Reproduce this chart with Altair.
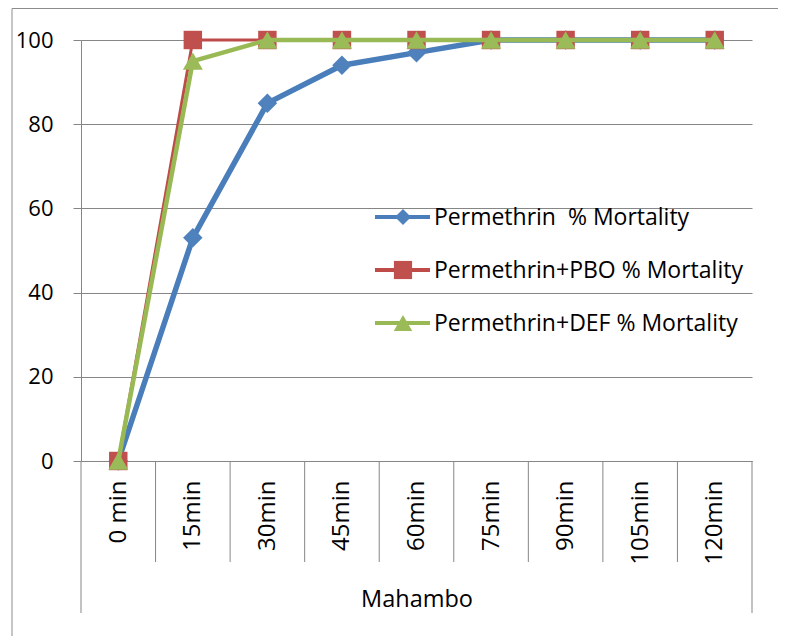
import json
import altair as alt
import pandas as pd

# ---------------- data ----------------
categories = ["0 min", "15min", "30min", "45min", "60min", "75min", "90min", "105min", "120min"]
series_names = [
    "Permethrin\u00a0 % Mortality",
    "Permethrin+PBO % Mortality",
    "Permethrin+DEF % Mortality",
]
permethrin = [0, 53, 85, 94, 97, 100, 100, 100, 100]
permethrin_pbo = [0, 100, 100, 100, 100, 100, 100, 100, 100]
permethrin_def = [0, 95, 100, 100, 100, 100, 100, 100, 100]
y_ticks = [0, 20, 40, 60, 80, 100]
group_label = "Mahambo"

# ---------------- styles ----------------
line_colors = ["#4A7EBB", "#BE4B48", "#98B954"]
marker_colors = ["#4F81BD", "#C0504D", "#9BBB59"]
shapes = ["diamond", "square", "triangle-up"]
line_widths = [5.5, 3, 4.5]
marker_sizes = [380, 340, 400]
legend_marker_sizes = [260, 330, 340]

GRAY = "#868686"
FONT = "Open Sans"
W, H = 671, 421

rows = []
for s, vals in zip(series_names, [permethrin, permethrin_pbo, permethrin_def]):
    for i, v in enumerate(vals):
        rows.append({"idx": i, "series": s, "value": v})
df = pd.DataFrame(rows)

bounds = pd.DataFrame({"idx": [i - 0.5 for i in range(len(categories) + 1)]})
first_b, last_b = float(bounds["idx"].min()), float(bounds["idx"].max())

xscale = alt.Scale(domain=[-0.5, len(categories) - 0.5], nice=False, zero=False)
yscale = alt.Scale(domain=[0, 100], nice=False)
label_expr = json.dumps(categories) + "[datum.value]"

x_axis = alt.Axis(
    values=list(range(len(categories))),
    labelExpr=label_expr,
    labelAngle=-90,
    labelAlign="right",
    labelBaseline="middle",
    labelPadding=19,
    labelFlush=False,
    labelOverlap=False,
    labelFont=FONT,
    labelFontSize=24,
    labelColor="black",
    ticks=False,
    grid=False,
    domainColor=GRAY,
    domainWidth=1,
    title=group_label,
    titleFont=FONT,
    titleFontSize=23.5,
    titleFontWeight="normal",
    titleColor="black",
    titleBaseline="alphabetic",
    titleY=145,
)
y_axis = alt.Axis(
    values=y_ticks,
    grid=True,
    gridColor=GRAY,
    gridWidth=1,
    domainColor=GRAY,
    tickColor=GRAY,
    tickSize=8,
    labelPadding=20,
    labelFont=FONT,
    labelFontSize=22,
    labelColor="black",
    title=None,
)
X = alt.X("idx:Q", scale=xscale, axis=x_axis)
Y = alt.Y("value:Q", scale=yscale, axis=y_axis)

layers = []

# category separators
layers.append(
    alt.Chart(bounds).transform_filter(
        (alt.datum.idx > first_b) & (alt.datum.idx < last_b)
    ).mark_rule(color=GRAY, strokeWidth=1).encode(
        x=X, y=alt.value(H), y2=alt.value(H + 101),
    )
)
layers.append(
    alt.Chart(bounds).transform_filter(
        (alt.datum.idx == first_b) | (alt.datum.idx == last_b)
    ).mark_rule(color=GRAY, strokeWidth=1).encode(
        x=X, y=alt.value(H), y2=alt.value(H + 152),
    )
)

# series lines + markers
for s, lc, mc, sh, lw, ms in zip(series_names, line_colors, marker_colors, shapes, line_widths, marker_sizes):
    base = alt.Chart(df).transform_filter(alt.datum.series == s)
    layers.append(
        base.mark_line(color=lc, strokeWidth=lw, strokeJoin="round").encode(x=X, y=Y)
    )
    layers.append(
        base.mark_point(filled=True, shape=sh, size=ms, color=mc, opacity=1).encode(x=X, y=Y)
    )

# legend (drawn inside the plot, Excel style)
LEG_X0, LEG_X1, LEG_MX, LEG_TX = 294, 349, 322, 353
LEG_Y0, LEG_DY = 177, 53
for k, (s, lc, mc, sh, lms) in enumerate(zip(series_names, line_colors, marker_colors, shapes, legend_marker_sizes)):
    ld = alt.Chart(pd.DataFrame({"series": [s]}))
    yy = LEG_Y0 + k * LEG_DY
    layers.append(ld.mark_rule(color=lc, strokeWidth=4).encode(
        x=alt.value(LEG_X0), x2=alt.value(LEG_X1), y=alt.value(yy)))
    layers.append(ld.mark_point(filled=True, shape=sh, size=lms, color=mc, opacity=1).encode(
        x=alt.value(LEG_MX), y=alt.value(yy)))
    layers.append(ld.mark_text(align="left", baseline="middle", font=FONT, fontSize=23, color="black").encode(
        x=alt.value(LEG_TX), y=alt.value(yy + 1), text="series:N"))

# chart-area frame (left and top edges)
frame = alt.Chart(pd.DataFrame({"k": [0]}))
layers.append(frame.mark_rule(color="#8C8C8C", strokeWidth=1).encode(
    x=alt.value(-69), y=alt.value(-31.5), y2=alt.value(H + 175)))
layers.append(frame.mark_rule(color="#8C8C8C", strokeWidth=1).encode(
    x=alt.value(-69), x2=alt.value(W + 26), y=alt.value(-31.5)))

chart = alt.layer(*layers).properties(
    width=W,
    height=H,
    padding={"left": 73, "top": 32, "right": 26, "bottom": 175},
    autosize=alt.AutoSizeParams(type="none"),
).configure(font=FONT).configure_view(strokeWidth=0)

chart.save("out.html", embed_options={"renderer": "svg", "actions": False})
